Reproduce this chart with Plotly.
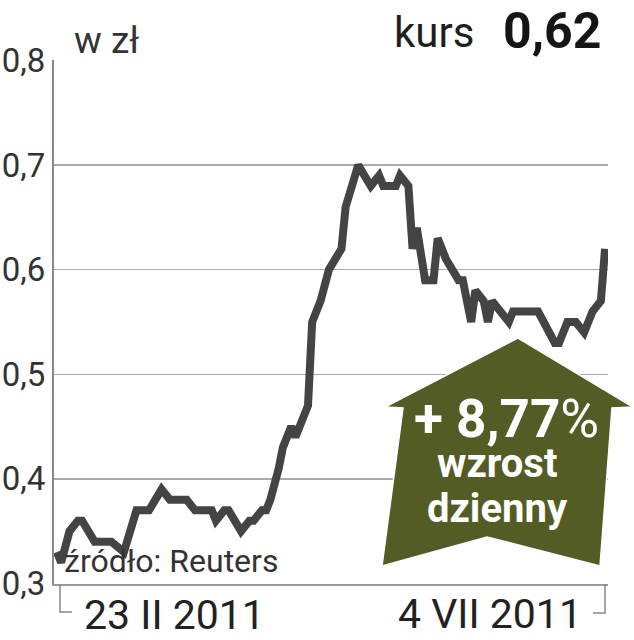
import plotly.graph_objects as go

# ---- data ----
dates = [
    "2011-02-23", "2011-02-24", "2011-02-26", "2011-02-28", "2011-03-01",
    "2011-03-04", "2011-03-08", "2011-03-11", "2011-03-14", "2011-03-17",
    "2011-03-20", "2011-03-22", "2011-03-26", "2011-03-28", "2011-04-01",
    "2011-04-02", "2011-04-04", "2011-04-05", "2011-04-08", "2011-04-10",
    "2011-04-11", "2011-04-13", "2011-04-14", "2011-04-15", "2011-04-17",
    "2011-04-18", "2011-04-20", "2011-04-21", "2011-04-23", "2011-04-24",
    "2011-04-25", "2011-04-27", "2011-04-29", "2011-05-02", "2011-05-03",
    "2011-05-06", "2011-05-09", "2011-05-11", "2011-05-12", "2011-05-15",
    "2011-05-16", "2011-05-18", "2011-05-19", "2011-05-20", "2011-05-22",
    "2011-05-24", "2011-05-25", "2011-05-27", "2011-05-30", "2011-05-31",
    "2011-06-02", "2011-06-03", "2011-06-05", "2011-06-06", "2011-06-07",
    "2011-06-09", "2011-06-11", "2011-06-12", "2011-06-18", "2011-06-22",
    "2011-06-23", "2011-06-25", "2011-06-27", "2011-06-29", "2011-07-01",
    "2011-07-03", "2011-07-04",
]
kurs = [
    0.33, 0.32, 0.35, 0.36, 0.36,
    0.34, 0.34, 0.33, 0.37, 0.37,
    0.39, 0.38, 0.38, 0.37, 0.37,
    0.36, 0.37, 0.37, 0.35, 0.36,
    0.36, 0.37, 0.37, 0.38, 0.41,
    0.43, 0.45, 0.44, 0.46, 0.47,
    0.55, 0.57, 0.60, 0.62, 0.66,
    0.70, 0.68, 0.69, 0.68, 0.68,
    0.69, 0.68, 0.62, 0.64, 0.59,
    0.59, 0.63, 0.61, 0.59, 0.59,
    0.55, 0.58, 0.57, 0.55, 0.57,
    0.56, 0.55, 0.56, 0.56, 0.53,
    0.53, 0.55, 0.55, 0.54, 0.56,
    0.57, 0.62,
]
y_ticks = [0.3, 0.4, 0.5, 0.6, 0.7, 0.8]
y_tick_labels = ["0,3", "0,4", "0,5", "0,6", "0,7", "0,8"]
x_labels = ["23 II 2011", "4 VII 2011"]
unit_label = "w zł"
title_label = "kurs"
title_value = "0,62"
source_label = "źródło: Reuters"
badge_lines = ["<b>+ 8,77</b>%", "<b>wzrost</b>", "<b>dzienny</b>"]

# ---- layout geometry (pixels) ----
W, H = 634, 640
L, R, T, B = 54, 608, 60, 584


def px(x):
    return (x - L) / (R - L)


def py(y):
    return (B - y) / (B - T)


FONT = "Roboto"

fig = go.Figure()
fig.add_trace(go.Scatter(
    x=dates, y=kurs, mode="lines",
    line=dict(color="#444444", width=8),
    hoverinfo="skip", showlegend=False,
))

# arrow badge
arrow_pts = [(518, 338), (633, 407), (612, 408), (600, 566), (487, 537),
             (382, 566), (403, 408), (385, 407)]
path = "M " + " L ".join(f"{px(a):.4f},{py(b):.4f}" for a, b in arrow_pts) + " Z"
shapes = [
    dict(type="path", xref="paper", yref="paper", path=path,
         fillcolor="#535c24", line=dict(color="white", width=1.5), layer="above"),
    # bracket ticks under x axis
    dict(type="path", xref="paper", yref="paper",
         path=f"M {px(60):.4f},{py(584):.4f} L {px(60):.4f},{py(612):.4f} L {px(72):.4f},{py(612):.4f}",
         line=dict(color="#888", width=1.5)),
    dict(type="path", xref="paper", yref="paper",
         path=f"M {px(605):.4f},{py(584):.4f} L {px(605):.4f},{py(613):.4f} L {px(593):.4f},{py(613):.4f}",
         line=dict(color="#888", width=1.5)),
]

annotations = [
    dict(text=unit_label, x=px(72), y=py(41), xanchor="left", yanchor="middle",
         font=dict(family=FONT, size=37, color="#333")),
    dict(text=title_label, x=px(476), y=py(32), xanchor="right", yanchor="middle",
         font=dict(family=FONT, size=42, color="#1e1e1e")),
    dict(text=f"<b>{title_value}</b>", x=px(501), y=py(31), xanchor="left", yanchor="middle",
         font=dict(family=FONT, size=50, color="#151515")),
    dict(text=source_label, x=px(62), y=py(561), xanchor="left", yanchor="middle",
         font=dict(family=FONT, size=32, color="#333")),
    dict(text=x_labels[0], x=px(82), y=py(615), xanchor="left", yanchor="middle",
         font=dict(family=FONT, size=41, color="#222")),
    dict(text=x_labels[1], x=px(584), y=py(614), xanchor="right", yanchor="middle",
         font=dict(family=FONT, size=41, color="#222")),
    dict(text=badge_lines[0], x=px(506), y=py(419), xanchor="center", yanchor="middle",
         font=dict(family=FONT, size=53, color="white")),
    dict(text=badge_lines[1], x=px(497), y=py(463), xanchor="center", yanchor="middle",
         font=dict(family=FONT, size=40, color="white")),
    dict(text=badge_lines[2], x=px(497), y=py(508), xanchor="center", yanchor="middle",
         font=dict(family=FONT, size=40, color="white")),
]
for a in annotations:
    a.update(xref="paper", yref="paper", showarrow=False)

fig.update_layout(
    width=W, height=H,
    margin=dict(l=L, r=W - R, t=T, b=H - B, pad=0, autoexpand=False),
    paper_bgcolor="white", plot_bgcolor="white",
    shapes=shapes, annotations=annotations,
    showlegend=False,
    xaxis=dict(
        type="date", range=["2011-02-22 07:00", "2011-07-04 17:00"],
        showgrid=False, zeroline=False, showticklabels=False, ticks="",
        showline=True, linecolor="#999", linewidth=1.5, automargin=False,
    ),
    yaxis=dict(
        range=[0.2995, 0.8005], tickvals=y_ticks, ticktext=y_tick_labels,
        showgrid=True, gridcolor="#aaa", gridwidth=1.5, zeroline=False,
        showline=True, linecolor="#888", linewidth=2, ticks="",
        ticklabelstandoff=0, automargin=False,
        tickfont=dict(family=FONT, size=33, color="#333"),
    ),
)

fig.write_html(
    "out.html",
    config={"displayModeBar": False, "staticPlot": True},
    post_script="document.body.style.margin='0';document.body.style.overflow='hidden';",
)
